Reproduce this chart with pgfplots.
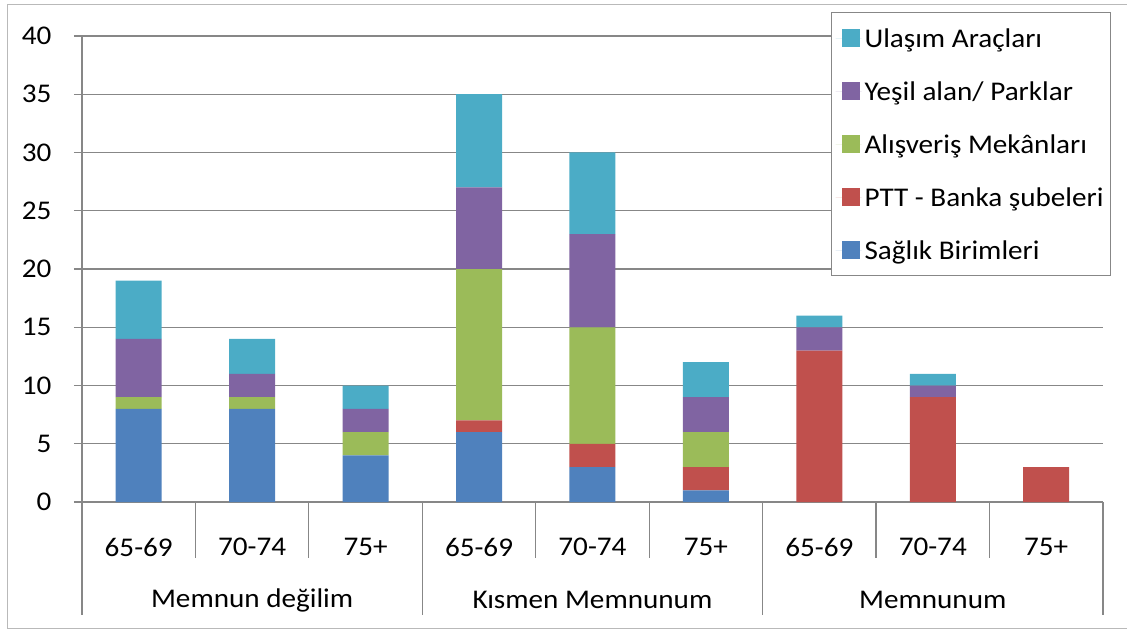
\documentclass[border=0pt]{standalone}
\usepackage{fontspec}
\setmainfont[FakeStretch=1.08]{Carlito}
\usepackage{pgfplots}
\pgfplotsset{compat=1.18}
\definecolor{cSag}{HTML}{4F81BD}
\definecolor{cPtt}{HTML}{C0504D}
\definecolor{cAlis}{HTML}{9BBB59}
\definecolor{cYes}{HTML}{8064A2}
\definecolor{cUla}{HTML}{4BACC6}
\definecolor{lineg}{HTML}{878787}
\newcommand{\bigf}{\fontsize{27bp}{31bp}\selectfont}
\begin{document}
\begin{tikzpicture}
\useasboundingbox (-82bp,-128bp) rectangle (1045bp,502bp);
\draw[gray!55, line width=1bp] (-74bp,-126bp) rectangle (1080bp,497bp);
\begin{axis}[
  at={(0,0)}, anchor=south west,
  scale only axis, width=1021bp, height=466bp,
  xmin=-0.5, xmax=8.5, ymin=0, ymax=40,
  ybar stacked, bar width=46bp,
  axis x line*=bottom, axis y line*=left,
  xtick={0,...,8},
  xticklabels={65-69,70-74,75+,65-69,70-74,75+,65-69,70-74,75+},
  x tick style={draw=none},
  x tick label style={anchor=center, yshift=-37bp},
  ytick={0,5,...,40},
  y tick label style={anchor=east, xshift=-19bp},
  ymajorgrids, grid style={lineg, line width=1.2bp},
  axis line style={lineg, line width=1.2bp},
  y tick style={lineg, line width=1.2bp},
  tick align=outside, major tick length=8bp,
  tick label style={font=\bigf},
  /pgf/number format/assume math mode=true,
  reverse legend,
  legend style={at={(0.7336,1.0515)}, anchor=north west,
    draw=lineg, line width=1.2bp, fill=white,
    inner xsep=4bp, inner ysep=13bp, row sep=28bp,
    font=\bigf,
    nodes={inner ysep=0bp, inner xsep=3bp, text height=22bp, text depth=3bp}},
  legend cell align=left,
  legend image code/.code={\path (0bp,0bp) -- (26bp,0bp); \fill[#1] (6bp,-9bp) rectangle (24bp,9bp);},
  clip=false,
]
\addplot[fill=cSag, draw=none] coordinates {(0,8) (1,8) (2,4) (3,6) (4,3) (5,1) (6,0) (7,0) (8,0)};
\addplot[fill=cPtt, draw=none] coordinates {(0,0) (1,0) (2,0) (3,1) (4,2) (5,2) (6,13) (7,9) (8,3)};
\addplot[fill=cAlis, draw=none] coordinates {(0,1) (1,1) (2,2) (3,13) (4,10) (5,3) (6,0) (7,0) (8,0)};
\addplot[fill=cYes, draw=none] coordinates {(0,5) (1,2) (2,2) (3,7) (4,8) (5,3) (6,2) (7,1) (8,0)};
\addplot[fill=cUla, draw=none] coordinates {(0,5) (1,3) (2,2) (3,8) (4,7) (5,3) (6,1) (7,1) (8,0)};
\legend{Sağlık Birimleri, PTT - Banka şubeleri, Alışveriş Mekânları, Yeşil alan/ Parklar, Ulaşım Araçları}
\pgfplotsinvokeforeach{0.5,1.5,3.5,4.5,6.5,7.5}{
  \draw[lineg, line width=1.2bp] (axis cs:#1,0) -- ([yshift=-56bp]axis cs:#1,0);
}
\pgfplotsinvokeforeach{-0.5,2.5,5.5,8.5}{
  \draw[lineg, line width=1.2bp] (axis cs:#1,0) -- ([yshift=-113bp]axis cs:#1,0);
}
\node[font=\bigf, anchor=center] at ([yshift=-98bp]axis cs:1,0) {Memnun değilim};
\node[font=\bigf, anchor=center] at ([yshift=-98bp]axis cs:4,0) {Kısmen Memnunum};
\node[font=\bigf, anchor=center] at ([yshift=-98bp]axis cs:7,0) {Memnunum};
\end{axis}
\end{tikzpicture}
\end{document}
